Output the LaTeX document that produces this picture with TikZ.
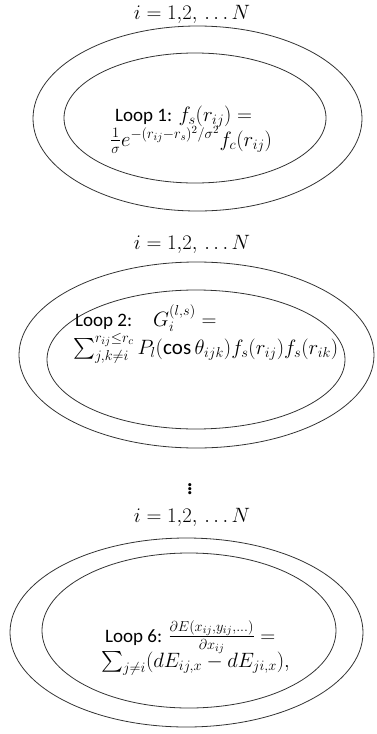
\documentclass[tikz,border=0pt]{standalone}
\usepackage{amsmath}
\usepackage{fontspec}
\setmainfont{Carlito}
\usetikzlibrary{positioning}
\newcommand{\looptag}[1]{{\fontsize{19}{23}\selectfont #1}}
\tikzset{
    ring/.style={line width=0.8pt, draw=black!80},
    loopline/.style={anchor=base west, inner sep=0pt, font=\fontsize{21}{25}\selectfont},
    indexlabel/.style={inner sep=0pt, font=\fontsize{20}{24}\selectfont}
}

\begin{document}
\begin{tikzpicture}[x=1pt, y=-1pt]
\useasboundingbox (0,0) rectangle (377,734);

% Mittelpunkte
\coordinate (C1o) at (197.5,118.5);
\coordinate (C1i) at (195,118);
\coordinate (C2o) at (196.5,355);
\coordinate (C2i) at (196,359.5);
\coordinate (C6o) at (186.5,632.5);
\coordinate (C6i) at (189,630.5);

% Schleife 1
\draw[ring] (C1o) ellipse [x radius=164.5pt, y radius=92.5pt];
\draw[ring] (C1i) ellipse [x radius=131pt, y radius=65pt];
\node[indexlabel] (idx1) at (192,14) {$i = 1{,}2,\,\ldots N$};
\node[loopline] (loop1a) at (115,121) {\looptag{Loop 1:} $f_s(r_{ij}) =$};
\node[loopline] (loop1b) at (110,146) {$\frac{1}{\sigma}e^{-(r_{ij}-r_s)^2/\sigma^2} f_c(r_{ij})$};

% Schleife 2
\draw[ring] (C2o) ellipse [x radius=177.5pt, y radius=93pt];
\draw[ring] (C2i) ellipse [x radius=149pt, y radius=69.5pt];
\node[indexlabel] (idx2) at (192,244) {$i = 1{,}2,\,\ldots N$};
\node[loopline] (loop2a) at (75,326) {\looptag{Loop 2:}\quad$G_i^{(l,s)} =$};
\node[loopline] (loop2b) at (73,354) {$\sum_{j,k\neq i}^{r_{ij}\leq r_c} P_l(\cos\theta_{ijk}) f_s(r_{ij}) f_s(r_{ik})$};

% Punkte
\node[indexlabel, font=\fontsize{26}{30}\selectfont] (dots) at (190,486) {$\vdots$};

% Schleife 6
\node[indexlabel] (idx6) at (192,517) {$i = 1{,}2,\,\ldots N$};
\draw[ring] (C6o) ellipse [x radius=176.5pt, y radius=94.5pt];
\draw[ring] (C6i) ellipse [x radius=147pt, y radius=77.5pt];
\node[loopline] (loop6a) at (105,642) {\looptag{Loop 6:} $\frac{\partial E(x_{ij},y_{ij},\ldots)}{\partial x_{ij}} =$};
\node[loopline] (loop6b) at (101,667) {$\sum_{j\neq i}(dE_{ij,x} - dE_{ji,x}),$};

\end{tikzpicture}
\end{document}
